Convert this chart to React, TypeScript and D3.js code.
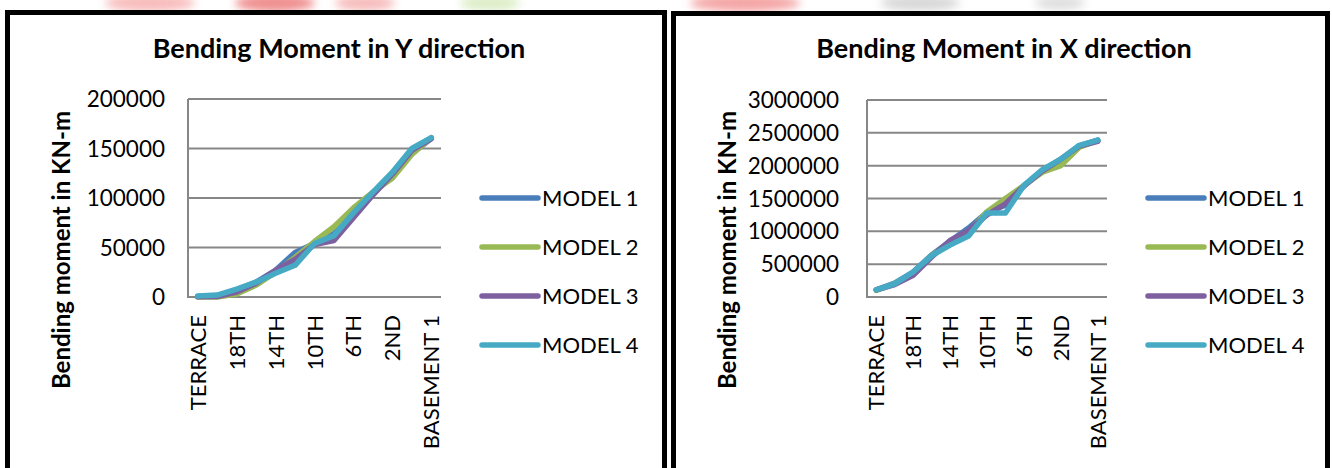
import * as d3 from 'd3';

const categories = ['TERRACE', '20TH', '18TH', '16TH', '14TH', '12TH', '10TH', '8TH', '6TH', '4TH', '2ND', 'GROUND', 'BASEMENT 1'];
const seriesNames = ['MODEL 1', 'MODEL 2', 'MODEL 3', 'MODEL 4'];
const seriesColors = ['#4a7ebb', '#98b954', '#7d60a0', '#46aac5'];

// Bending moment in Y direction (KN-m)
const yModel1 = [500, 1000, 7000, 15000, 27000, 45000, 54000, 64000, 82000, 104000, 124000, 145000, 160000];
const yModel2 = [0, 0, 3000, 12000, 25000, 40000, 56000, 71000, 90000, 106000, 120000, 144000, 161000];
const yModel3 = [200, 500, 5000, 14000, 27000, 38000, 53000, 57000, 80000, 103000, 124000, 148000, 160000];
const yModel4 = [1000, 2000, 8000, 15000, 24000, 32000, 54000, 62000, 85000, 106000, 126000, 150000, 161000];

// Bending moment in X direction (KN-m)
const xModel1 = [110000, 210000, 380000, 640000, 850000, 1050000, 1290000, 1400000, 1690000, 1930000, 2090000, 2300000, 2390000];
const xModel2 = [100000, 200000, 360000, 630000, 820000, 980000, 1300000, 1500000, 1700000, 1900000, 2000000, 2280000, 2380000];
const xModel3 = [110000, 190000, 330000, 610000, 860000, 1010000, 1250000, 1420000, 1690000, 1920000, 2100000, 2300000, 2370000];
const xModel4 = [110000, 200000, 380000, 630000, 790000, 930000, 1280000, 1280000, 1700000, 1940000, 2100000, 2310000, 2390000];

const yTicks = [0, 50000, 100000, 150000, 200000];
const xTicks = [0, 500000, 1000000, 1500000, 2000000, 2500000, 3000000];

const FONT = 'Lato, "Open Sans", sans-serif';

interface ChartProps {
  titleX: number;
  title: string;
  series: number[][];
  ticks: number[];
  plot: { x0: number; x1: number; y0: number; y1: number };
  tickRight: number;
  yTitleX: number;
  legendX: number;
}

function Chart({ titleX, title, series, ticks, plot, tickRight, yTitleX, legendX }: ChartProps) {
  const x = d3.scaleBand<string>().domain(categories).range([plot.x0, plot.x1]);
  const y = d3
    .scaleLinear()
    .domain([0, ticks[ticks.length - 1]])
    .range([plot.y1, plot.y0]);
  const line = d3
    .line<number>()
    .x((_, i) => x(categories[i])! + x.bandwidth() / 2)
    .y((d) => y(d));

  return (
    <g>
      <text x={titleX} y={58} textAnchor="middle" fontFamily={FONT} fontWeight={700} fontSize={27} fill="#000">
        {title}
      </text>

      {/* gridlines */}
      {ticks.map((t) => (
        <line key={t} x1={plot.x0} x2={plot.x1} y1={y(t)} y2={y(t)} stroke="#878787" strokeWidth={2} />
      ))}
      <line x1={plot.x0} x2={plot.x0} y1={plot.y0} y2={plot.y1 + 1} stroke="#878787" strokeWidth={2} />

      {/* y tick labels */}
      {ticks.map((t) => (
        <text key={t} x={tickRight} y={y(t) + 8} textAnchor="end" fontFamily={FONT} fontSize={22.5} fill="#000">
          {d3.format('d')(t)}
        </text>
      ))}

      <text
        transform={`translate(${yTitleX},250) rotate(-90)`}
        textAnchor="middle"
        fontFamily={FONT}
        fontWeight={700}
        fontSize={24}
        fill="#000"
      >
        Bending moment in KN-m
      </text>

      {/* x labels, every other category */}
      {categories.map((c, i) =>
        i % 2 === 0 ? (
          <text
            key={c}
            transform={`translate(${x(c)! + x.bandwidth() / 2 + 8},315) rotate(-90)`}
            textAnchor="end"
            fontFamily={FONT}
            fontSize={22}
            fill="#000"
          >
            {c}
          </text>
        ) : null,
      )}

      {/* series */}
      {series.map((s, k) => (
        <path
          key={k}
          d={line(s) ?? ''}
          fill="none"
          stroke={seriesColors[k]}
          strokeWidth={5.5}
          strokeLinejoin="round"
          strokeLinecap="round"
        />
      ))}

      {/* legend */}
      {seriesNames.map((n, k) => (
        <g key={n} transform={`translate(${legendX},${198 + k * 49})`}>
          <line x1={0} x2={56} y1={0} y2={0} stroke={seriesColors[k]} strokeWidth={5.5} strokeLinecap="round" />
          <text x={60} y={8} fontFamily={FONT} fontSize={22} fill="#000">
            {n}
          </text>
        </g>
      ))}
    </g>
  );
}

export default function App() {
  return (
    <svg
      width={1332}
      height={468}
      style={{ position: 'fixed', left: 0, top: 0, background: '#fff' }}
    >
      <defs>
        <filter id="blur" x="-50%" y="-50%" width="200%" height="200%">
          <feGaussianBlur stdDeviation="4" />
        </filter>
      </defs>
      {/* faded watermark along the top edge */}
      <g filter="url(#blur)" opacity={0.7}>
        <ellipse cx={150} cy={3} rx={45} ry={9} fill="#f5a0a0" />
        <ellipse cx={275} cy={3} rx={40} ry={9} fill="#e86060" />
        <ellipse cx={365} cy={3} rx={30} ry={8} fill="#f3a0a0" />
        <ellipse cx={490} cy={3} rx={30} ry={8} fill="#cfe6b0" />
        <ellipse cx={745} cy={3} rx={55} ry={9} fill="#f08080" />
        <ellipse cx={920} cy={3} rx={40} ry={8} fill="#c8c8c8" />
        <ellipse cx={1060} cy={3} rx={25} ry={7} fill="#d0d0d0" />
      </g>

      <rect x={7.5} y={12.5} width={657} height={470} fill="#fff" stroke="#000" strokeWidth={5} />
      <rect x={673.5} y={13.5} width={654} height={470} fill="#fff" stroke="#000" strokeWidth={5} />

      <Chart
        titleX={339}
        title="Bending Moment in Y direction"
        series={[yModel1, yModel2, yModel3, yModel4]}
        ticks={yTicks}
        plot={{ x0: 188, x1: 441, y0: 99, y1: 297 }}
        tickRight={165}
        yTitleX={70}
        legendX={482}
      />
      <Chart
        titleX={1004}
        title="Bending Moment in X direction"
        series={[xModel1, xModel2, xModel3, xModel4]}
        ticks={xTicks}
        plot={{ x0: 867, x1: 1107, y0: 100, y1: 297 }}
        tickRight={839}
        yTitleX={736}
        legendX={1148}
      />
    </svg>
  );
}
